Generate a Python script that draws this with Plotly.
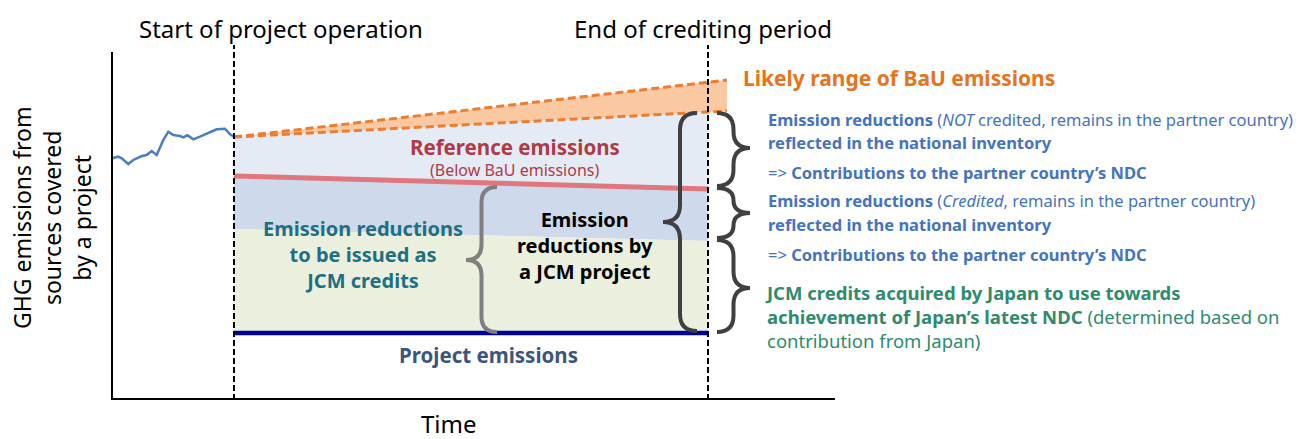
import plotly.graph_objects as go

W, H = 1303, 439

# ---------------- data (schematic units: time in years from project start, emissions index) ----
hist_t = [-2.568, -2.441, -2.369, -2.230, -2.124, -1.947, -1.842, -1.736, -1.631, -1.540,
          -1.492, -1.386, -1.281, -1.139, -1.070, -0.985, -0.859, -0.717, -0.506, -0.365,
          -0.190, -0.084, 0.0]
hist_e = [69.37, 69.83, 69.37, 67.72, 68.88, 70.03, 70.32, 71.47, 70.32, 73.20,
          74.64, 77.03, 76.08, 75.79, 75.42, 75.99, 74.84, 75.59, 76.74, 77.72,
          77.90, 76.28, 75.59]

proj_t = [0.0, 10.0]           # start of project operation, end of crediting period
bau_t = [0.0, 10.4]
bau_upper = [75.5, 91.9]
bau_lower = [75.5, 83.0]
bau_lower_at_end = 82.7        # lower BaU bound at end of crediting period
reference_e = [64.3, 60.5]
credit_boundary_e = [49.0, 45.5]
project_e = [19.0, 19.0]

# ---------------- helpers -------------------------------------------------------------------
FONT = "Noto Sans"


def P(x, y):
    return x / W, 1 - y / H


def brace(xa, xt, yt, ym, yb):
    """curly brace: arms end at xa, tip at xt (pixel coords)"""
    xm = (xa + xt) / 2.0
    r = min(abs(xa - xm), (ym - yt) / 2.0, (yb - ym) / 2.0)

    def f(x, y):
        a, b = P(x, y)
        return f"{a:.5f},{b:.5f}"
    d = (f"M {f(xa, yt)} Q {f(xm, yt)} {f(xm, yt + r)} L {f(xm, ym - r)} "
         f"Q {f(xm, ym)} {f(xt, ym)} Q {f(xm, ym)} {f(xm, ym + r)} "
         f"L {f(xm, yb - r)} Q {f(xm, yb)} {f(xa, yb)}")
    return d


fig = go.Figure()

# fills
fig.add_trace(go.Scatter(
    x=[bau_t[0], bau_t[1], bau_t[1], bau_t[0]],
    y=[bau_upper[0], bau_upper[1], bau_lower[1], bau_lower[0]],
    fill="toself", fillcolor="#FAC9A2", line=dict(width=0), mode="lines",
    hoverinfo="skip", showlegend=False))
fig.add_trace(go.Scatter(
    x=[proj_t[0], proj_t[1], proj_t[1], proj_t[0]],
    y=[bau_lower[0], bau_lower_at_end, reference_e[1], reference_e[0]],
    fill="toself", fillcolor="#E5EBF5", line=dict(width=0), mode="lines",
    hoverinfo="skip", showlegend=False))
fig.add_trace(go.Scatter(
    x=[proj_t[0], proj_t[1], proj_t[1], proj_t[0]],
    y=[reference_e[0], reference_e[1], credit_boundary_e[1], credit_boundary_e[0]],
    fill="toself", fillcolor="#CEDAEB", line=dict(width=0), mode="lines",
    hoverinfo="skip", showlegend=False))
fig.add_trace(go.Scatter(
    x=[proj_t[0], proj_t[1], proj_t[1], proj_t[0]],
    y=[credit_boundary_e[0], credit_boundary_e[1], project_e[1], project_e[0]],
    fill="toself", fillcolor="#EBEFDE", line=dict(width=0), mode="lines",
    hoverinfo="skip", showlegend=False))

# lines
fig.add_trace(go.Scatter(x=bau_t, y=bau_upper, mode="lines",
                         line=dict(color="#ED7D31", width=3, dash="8px,4px"),
                         hoverinfo="skip", showlegend=False))
fig.add_trace(go.Scatter(x=bau_t, y=bau_lower, mode="lines",
                         line=dict(color="#ED7D31", width=3, dash="8px,4px"),
                         hoverinfo="skip", showlegend=False))
fig.add_trace(go.Scatter(x=proj_t, y=reference_e, mode="lines",
                         line=dict(color="#E0767E", width=5),
                         hoverinfo="skip", showlegend=False))
fig.add_trace(go.Scatter(x=proj_t, y=project_e, mode="lines",
                         line=dict(color="#00009A", width=4.5),
                         hoverinfo="skip", showlegend=False))
fig.add_trace(go.Scatter(x=hist_t, y=hist_e, mode="lines",
                         line=dict(color="#4A7EC1", width=2.5),
                         hoverinfo="skip", showlegend=False))

shapes = []
# vertical dashed lines at start / end
for t in proj_t:
    shapes.append(dict(type="line", xref="x", yref="paper", x0=t, x1=t,
                       y0=P(0, 400)[1], y1=P(0, 45)[1],
                       line=dict(color="black", width=2, dash="6px,3px"), layer="above"))
# axes spines
shapes.append(dict(type="line", xref="paper", yref="paper",
                   x0=P(112, 0)[0], x1=P(112, 0)[0], y0=P(0, 52)[1], y1=P(0, 400)[1],
                   line=dict(color="black", width=2), layer="above"))
shapes.append(dict(type="line", xref="paper", yref="paper",
                   x0=P(111, 0)[0], x1=P(835, 0)[0], y0=P(0, 399)[1], y1=P(0, 399)[1],
                   line=dict(color="black", width=2), layer="above"))
# braces
shapes.append(dict(type="path", xref="paper", yref="paper",
                   path=brace(497, 466, 187, 260, 332),
                   line=dict(color="#7F7F7F", width=4), layer="above"))
shapes.append(dict(type="path", xref="paper", yref="paper",
                   path=brace(697, 663, 113, 222, 331),
                   line=dict(color="#404040", width=4), layer="above"))
for yt, ym, yb in [(113, 148, 186), (188, 213, 238), (240, 288, 332)]:
    shapes.append(dict(type="path", xref="paper", yref="paper",
                       path=brace(717, 750, yt, ym, yb),
                       line=dict(color="#404040", width=4), layer="above"))

ann = []


def T(x, y, text, size, color="black", xanchor="center", angle=0, align="center"):
    a, b = P(x, y)
    ann.append(dict(x=a, y=b, xref="paper", yref="paper", text=text, showarrow=False,
                    xanchor=xanchor, yanchor="middle", textangle=angle, align=align,
                    font=dict(family=FONT, size=size, color=color)))


T(281, 28, "Start of project operation", 24)
T(703, 28, "End of crediting period", 24)
T(449, 423, "Time", 24)
T(52, 218, "GHG emissions from<br>sources covered<br>by a project", 23, angle=-90)

T(741, 78, "<b>Likely range of BaU emissions</b>", 21, "#E8731A", xanchor="left")
T(515, 147, "<b>Reference emissions</b>", 20.5, "#B03A46")
T(514, 170, "(Below BaU emissions)", 16, "#B03A46")
teal = "#1F6F82"
T(363, 254, "<b>Emission reductions<br>to be issued as<br>JCM credits</b>", 20, teal)
T(585, 245, "<b>Emission<br>reductions by<br>a JCM project</b>", 20)
T(488, 355, "<b>Project emissions</b>", 20.5, "#3C5580")

blue = "#4472C4"
T(766, 119, "<b>Emission reductions</b> (<i>NOT</i> credited, remains in the partner country)", 16.5, blue, "left")
T(766, 142, "<b>reflected in the national inventory</b>", 16.5, blue, "left")
T(766, 172, "=> <b>Contributions to the partner country’s NDC</b>", 16.5, blue, "left")
T(766, 200, "<b>Emission reductions</b> (<i>Credited</i>, remains in the partner country)", 16.5, blue, "left")
T(766, 224, "<b>reflected in the national inventory</b>", 16.5, blue, "left")
T(766, 254, "=> <b>Contributions to the partner country’s NDC</b>", 16.5, blue, "left")
green = "#2E8B6C"
T(763, 316, "<b>JCM credits acquired by Japan to use towards<br>achievement of Japan’s latest NDC</b> (determined based on<br>contribution from Japan)",
  18.5, green, "left", align="left")

t0 = (0 - 234) / 47.4
t1 = (W - 234) / 47.4
e0 = (399 - H) / 3.47
e1 = 399 / 3.47

fig.update_layout(
    width=W, height=H, margin=dict(l=0, r=0, t=0, b=0),
    paper_bgcolor="white", plot_bgcolor="white",
    xaxis=dict(range=[t0, t1], visible=False, fixedrange=True),
    yaxis=dict(range=[e0, e1], visible=False, fixedrange=True),
    shapes=shapes, annotations=ann, showlegend=False,
)

fig.write_html("out.html", config=dict(displayModeBar=False),
               post_script="document.body.style.margin='0px';document.body.style.overflow='hidden';")
